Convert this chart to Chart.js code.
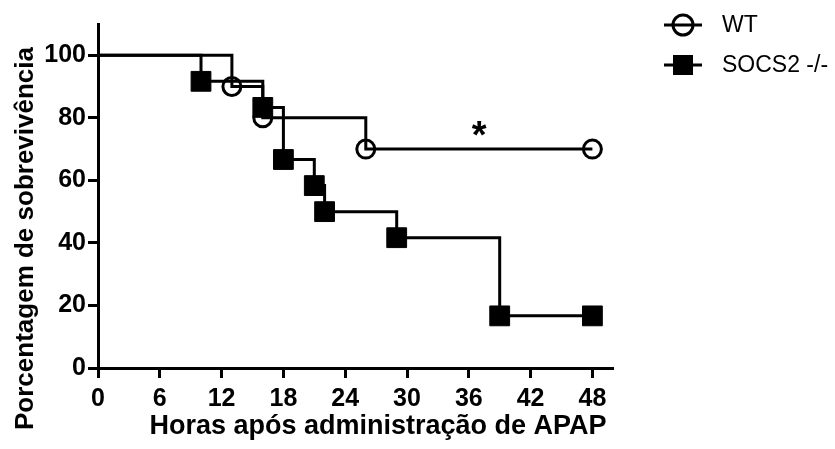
<!DOCTYPE html>
<html>
<head>
<meta charset="utf-8">
<script src="https://cdn.jsdelivr.net/npm/chart.js@4/dist/chart.umd.min.js"></script>
<style>
  html, body { margin: 0; padding: 0; background: #fff; }
  #wrap { width: 835px; height: 449px; position: relative; }
</style>
</head>
<body>
<div id="wrap"><canvas id="c" width="835" height="449"></canvas></div>
<script>
// Kaplan-Meier survival after APAP administration (hours, % survival)
const wtHours     = [0, 13, 16, 26, 48];
const wtSurvival  = [100, 90, 80, 70, 70];
const koHours     = [0, 10, 16, 18, 21, 22, 29, 39, 48];
const koSurvival  = [100, 91.67, 83.33, 66.67, 58.33, 50, 41.67, 16.67, 16.67];
const seriesNames = ['WT', 'SOCS2 -/-'];
const xTickValues = [0, 6, 12, 18, 24, 30, 36, 42, 48];
const yTickValues = [0, 20, 40, 60, 80, 100];
const xAxisTitle  = 'Horas após administração de APAP';
const yAxisTitle  = 'Porcentagem de sobrevivência';
const starHour = 37, starValue = 76.5;   // significance mark

const FONT = "'Liberation Sans', Arial, Helvetica, sans-serif";

const toPoints = (xs, ys) => xs.map((x, i) => ({ x, y: ys[i] }));
// first point is the start of the curve, not an event: no marker there
const markerRadius = r => ctx => (ctx.dataIndex === 0 ? 0 : r);

const extras = {
  id: 'extras',
  afterDraw(chart) {
    const c = chart.ctx;
    const xs = chart.scales.x, ys = chart.scales.y;
    c.save();
    c.fillStyle = '#000';
    c.strokeStyle = '#000';

    // axis titles
    c.textAlign = 'center';
    c.textBaseline = 'alphabetic';
    c.font = 'bold 27px ' + FONT;
    c.fillText(xAxisTitle, 378, 434);
    c.font = 'bold 26px ' + FONT;
    c.save();
    c.translate(33, 238.5);
    c.rotate(-Math.PI / 2);
    c.fillText(yAxisTitle, 0, 0);
    c.restore();

    // significance asterisk, centred on its position
    c.font = 'bold 38px ' + FONT;
    c.textAlign = 'center';
    c.textBaseline = 'alphabetic';
    const m = c.measureText('*');
    const sx = xs.getPixelForValue(starHour);
    const sy = ys.getPixelForValue(starValue);
    c.fillText('*', sx, sy + (m.actualBoundingBoxAscent - m.actualBoundingBoxDescent) / 2);

    // legend
    const rows = [25, 65];
    chart.data.datasets.forEach((ds, i) => {
      const y = rows[i], cx = 683;
      c.lineWidth = 3;
      c.beginPath();
      c.moveTo(664, y); c.lineTo(702, y);
      c.stroke();
      if (ds.pointStyle === 'circle') {
        c.beginPath();
        c.arc(cx, y, 10, 0, Math.PI * 2);
        c.stroke();
      } else {
        c.fillRect(cx - 10, y - 10, 20, 20);
      }
      c.font = '23px ' + FONT;
      c.textAlign = 'left';
      c.textBaseline = 'middle';
      c.fillText(ds.label, 722, y + 1);
    });
    c.restore();
  }
};

new Chart(document.getElementById('c'), {
  type: 'line',
  data: {
    datasets: [
      {
        label: seriesNames[0],
        data: toPoints(wtHours, wtSurvival),
        stepped: 'before',
        borderColor: '#000',
        borderWidth: 3,
        pointStyle: 'circle',
        pointRadius: markerRadius(9),
        pointBorderWidth: 3,
        pointBorderColor: '#000',
        pointBackgroundColor: 'rgba(0,0,0,0)',
        clip: false
      },
      {
        label: seriesNames[1],
        data: toPoints(koHours, koSurvival),
        stepped: 'before',
        borderColor: '#000',
        borderWidth: 3,
        pointStyle: 'rect',
        pointRadius: markerRadius(14),
        pointBorderWidth: 1,
        pointBorderColor: '#000',
        pointBackgroundColor: '#000',
        clip: false
      }
    ]
  },
  options: {
    responsive: false,
    animation: false,
    layout: { padding: { top: 24, right: 222, left: 0, bottom: 0 } },
    plugins: { legend: { display: false }, tooltip: { enabled: false } },
    elements: { line: { tension: 0 } },
    scales: {
      x: {
        type: 'linear',
        min: 0, max: 50,
        afterFit(s) { s.height = 81; },
        afterBuildTicks(s) { s.ticks = xTickValues.map(v => ({ value: v })); },
        border: { display: true, color: '#000', width: 3 },
        grid: { drawOnChartArea: false, drawTicks: true, tickLength: 10, tickWidth: 3, tickColor: '#000', color: '#000' },
        ticks: { color: '#000', font: { family: FONT, size: 25, weight: 'bold' }, padding: 6, maxRotation: 0, autoSkip: false }
      },
      y: {
        type: 'linear',
        min: 0, max: 110,
        afterFit(s) { s.width = 98; },
        afterBuildTicks(s) { s.ticks = yTickValues.map(v => ({ value: v })); },
        border: { display: true, color: '#000', width: 3 },
        grid: { drawOnChartArea: false, drawTicks: true, tickLength: 10, tickWidth: 3, tickColor: '#000', color: '#000' },
        ticks: { color: '#000', font: { family: FONT, size: 25, weight: 'bold' }, padding: 2 }
      }
    }
  },
  plugins: [extras]
});
</script>
</body>
</html>
